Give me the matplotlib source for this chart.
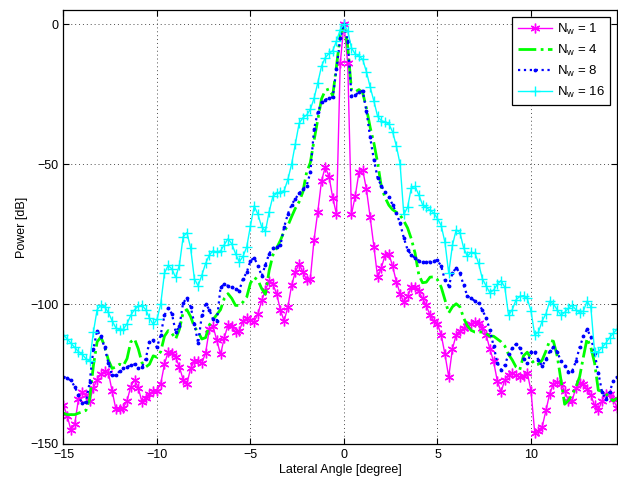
import matplotlib

matplotlib.use("Agg")
import matplotlib.pyplot as plt
import numpy as np

# lateral angle grid [degree], 0.2 deg step
angle = np.round(np.arange(-15.0, 14.61, 0.2), 1)

power_nw1 = [
    -136, -140, -145, -143, -134,
    -131.5, -132.5, -134.5, -130, -127,
    -125, -124, -124.5, -131, -137.5,
    -137.5, -137, -134.5, -129.5, -127,
    -130, -135, -133.5, -132, -131.2,
    -131, -128.5, -121.5, -117, -117.5,
    -119, -122.5, -127, -128.5, -123,
    -120.3, -120.2, -121, -117.5, -109,
    -108, -113, -118, -112, -107.5,
    -108, -110, -109.5, -106.2, -105,
    -105.8, -106.3, -103.5, -98.7, -95,
    -91.8, -93, -96.3, -102.2, -106,
    -101, -93.3, -88.5, -85.7, -88.5,
    -91.3, -91, -77, -67, -56,
    -51, -54.5, -62, -68, -14,
    0,
    -14, -68, -61.5, -53, -52,
    -59, -69, -79.5, -90.5, -87,
    -82.5, -82, -86.5, -92, -96.3,
    -99.3, -97.2, -94, -94, -95.5,
    -98, -100.5, -104, -106, -107.2,
    -111, -118, -126, -116, -111,
    -109.6, -108.7, -107.8, -107, -106.5,
    -106.8, -108.5, -111, -116, -120.5,
    -127.5, -131.5, -127, -125.2, -124.8,
    -125.5, -126, -125.8, -124.5, -131,
    -146, -145.5, -143.8, -138, -132,
    -128.5, -127.8, -128.5, -131, -134.5,
    -134.5, -130, -128.2, -128.6, -130.5,
    -132.5, -136.2, -137.9, -134.5, -132.3,
    -132, -134, -137,
]

power_nw4 = [
    -139, -139.5, -139.5, -139.5, -139,
    -138.5, -138, -134, -122, -113.5,
    -111.8, -115, -120, -123, -122.5,
    -121.5, -122, -119.5, -113.5, -112.5,
    -116, -121, -122.5, -121.5, -118.5,
    -119, -117, -111.5, -109.5, -110.5,
    -112.5, -109, -103, -102, -104.5,
    -108.2, -110, -112.5, -112, -107.5,
    -105.5, -103.8, -102, -98, -96.3,
    -98, -100.5, -100.5, -99.3, -97.5,
    -92.5, -90.5, -91.5, -94.5, -96.5,
    -88, -82.5, -80, -77.3, -74,
    -72, -68.8, -65.8, -63.5, -60,
    -53, -49.5, -41.5, -34, -26.7,
    -23.7, -23.2, -25.5, -15, -4,
    0,
    -8, -23.5, -24.2, -23.4, -24.5,
    -30, -36.9, -42.5, -49.6, -58.2,
    -62, -64.7, -66.3, -67.2, -68.2,
    -70.3, -72.8, -76.7, -81.8, -89.5,
    -92.4, -92.2, -90.4, -90.3, -91.3,
    -94, -98.5, -103.2, -101, -99.9,
    -101, -105, -107.8, -109.4, -110,
    -110, -110, -110.5, -111.5, -111.5,
    -112.5, -113.5, -115, -118, -120,
    -122.5, -123.5, -118.5, -117.2, -119.5,
    -121.7, -121.5, -120, -116.8, -113,
    -113.3, -118.5, -127, -135.8, -134.5,
    -132.3, -129.7, -126, -119, -112.3,
    -115.5, -121, -130.8, -131.2, -132,
    -133.4, -134.6, -133.6,
]

power_nw8 = [
    -126, -126.5, -127.3, -129.5, -132.5,
    -135.5, -135, -128, -116, -109.5,
    -111.5, -115.5, -121, -125.5, -125.5,
    -124, -123, -122.5, -121.8, -121.6,
    -123, -122.5, -119.5, -113.5, -113,
    -115.5, -111, -104, -101.5, -103.5,
    -110, -108, -99.5, -98, -101,
    -107, -114, -104, -100, -102,
    -105.5, -106, -94, -93, -93.5,
    -94, -94.8, -95.2, -91, -88.7,
    -84.5, -83.5, -86.3, -90, -86,
    -82, -80, -79.6, -79, -72.5,
    -67.8, -64.5, -62.4, -60.5, -59,
    -57.8, -53, -37.5, -31.5, -28,
    -27, -26.5, -26.1, -16, -5,
    0,
    -6, -25.6, -25.4, -24.3, -23.8,
    -31, -40.5, -48.5, -55, -57.8,
    -60, -61.8, -64.5, -67.4, -71.2,
    -76.4, -80.6, -82.4, -83.6, -84.5,
    -85, -85, -84.9, -84.6, -84.4,
    -86.5, -91.5, -93.5, -89, -87,
    -89, -93.3, -97.2, -98, -98.9,
    -99.8, -102.2, -104.9, -109.2, -115,
    -121, -123.5, -121.8, -118, -115.8,
    -114.3, -115.7, -119.5, -121.2, -117,
    -117.2, -120, -122.2, -119.8, -116.8,
    -115.5, -117, -120.4, -122, -124.2,
    -124, -120.5, -115.5, -111.6, -109,
    -111.8, -117.5, -124.5, -131.5, -134,
    -131.5, -127.5, -126,
]

power_nw16 = [
    -111, -112.5, -114, -115.5, -117,
    -118, -119.5, -120.5, -110, -102,
    -100.5, -101, -103, -106, -108.5,
    -109.3, -109, -107, -104, -102,
    -100.8, -100.5, -102, -105, -107.3,
    -105.5, -100, -89, -86.2, -87.5,
    -90.5, -86, -76, -74.5, -80,
    -91, -93.5, -89.7, -85.5, -82.5,
    -81, -81.4, -81, -78.8, -76.7,
    -78.5, -82, -85, -83, -79.6,
    -72, -65, -68, -72.5, -74,
    -67, -61.5, -60.5, -60, -59.5,
    -55.5, -50, -42.8, -35.5, -33.5,
    -32.5, -30.5, -26.5, -21, -15,
    -12, -10.5, -9.5, -6, -2,
    0,
    -2.5, -8.5, -10.7, -11.4, -12.6,
    -17, -22.5, -27.5, -33, -34.5,
    -35, -35.7, -38.5, -43.5, -50,
    -68, -65.5, -58.5, -58, -61,
    -64.5, -65.5, -66.5, -67.5, -69.5,
    -72, -78, -89, -79, -73.5,
    -74.5, -80, -83, -81.5, -81.8,
    -85.5, -91, -93.5, -96, -95,
    -93, -91.6, -94, -104, -102,
    -98.5, -97.3, -97, -98, -102.5,
    -111, -110, -106, -103.5, -99,
    -100, -102, -104, -103, -101.5,
    -100.5, -102, -103.2, -102.5, -99,
    -101, -117, -117, -115.5, -114,
    -112, -110.5, -109,
]

series_labels = [r"N$_\mathregular{w}$ = 1", r"N$_\mathregular{w}$ = 4",
                 r"N$_\mathregular{w}$ = 8", r"N$_\mathregular{w}$ = 16"]

plt.rcParams["font.family"] = ["Liberation Sans", "DejaVu Sans"]
plt.rcParams["font.size"] = 9
plt.rcParams["mathtext.fontset"] = "custom"
plt.rcParams["mathtext.rm"] = "Liberation Sans"

fig = plt.figure(figsize=(6.18, 4.8), dpi=100)
ax = fig.add_axes([0.1027, 0.075, 0.8957, 0.904])

asterisk = (6, 2, 0)
ax.plot(angle, power_nw1, color="#ff00ff", linestyle="-", linewidth=1.0,
        marker=asterisk, markersize=7, markeredgewidth=1.0,
        label=series_labels[0])
ax.plot(angle, power_nw4, color="#00ff00", linestyle="-.", linewidth=2.0,
        label=series_labels[1])
ax.plot(angle, power_nw8, color="#0000ff", linestyle=":", linewidth=1.6,
        marker=".", markersize=3.5, label=series_labels[2])
ax.plot(angle, power_nw16, color="#00ffff", linestyle="-", linewidth=1.0,
        marker="+", markersize=7, markeredgewidth=1.0, label=series_labels[3])

ax.set_xlim(-15, 14.6)
ax.set_ylim(-150, 5)
ax.set_xticks([-15, -10, -5, 0, 5, 10])
ax.set_yticks([-150, -100, -50, 0])
ax.tick_params(direction="in", top=True, right=True, length=4, width=0.8)
ax.grid(True, linestyle=(0, (1, 3)), color="0.3", linewidth=0.7)
for spine in ax.spines.values():
    spine.set_linewidth(0.9)

ax.set_xlabel("Lateral Angle [degree]", labelpad=2)
ax.set_ylabel("Power [dB]", labelpad=1.5)

leg = ax.legend(loc="upper right", fancybox=False, edgecolor="black",
                framealpha=1, borderaxespad=0.5, handlelength=2.6,
                handletextpad=0.4, borderpad=0.4,
                labelspacing=0.45, fontsize=9.5)
leg.get_frame().set_linewidth(0.9)

fig.savefig("out.png", dpi=100)
